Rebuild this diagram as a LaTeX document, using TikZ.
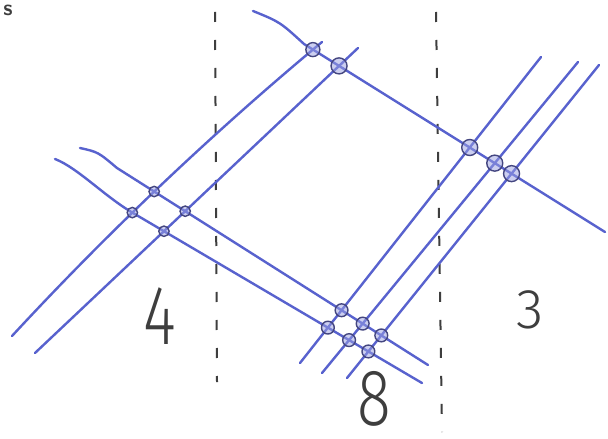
\documentclass[tikz,border=0pt]{standalone}
\usepackage{fontspec}
\newfontfamily\handfont{Fira Sans Light}
\usetikzlibrary{intersections}
\definecolor{pen}{RGB}{88,98,206}
\definecolor{ink}{RGB}{62,62,62}
\definecolor{ring}{RGB}{68,70,128}

\begin{document}
\begin{tikzpicture}[x=0.5pt, y=-0.5pt,
  wire/.style={pen, line width=1.2pt, line cap=round},
  cut/.style={ink, line width=1pt, dash pattern=on 5pt off 9pt},
  knot/.style={draw=ring, fill=pen!60, fill opacity=0.5, line width=0.7pt},
  digit/.style={ink, inner sep=0pt, font=\handfont\fontsize{42}{42}\selectfont}]
% canvas
\fill[white] (0,0) rectangle (608,438);
\useasboundingbox (0,0) rectangle (608,438);
% vertical cuts
\draw[cut] (215,12) -- (217,382);
\draw[cut] (436,12) -- (442,432);
% top strand
\draw[wire, name path=T] (253,11) .. controls (280,22) .. (304,44) -- (605,232);
% left pair
\draw[wire, name path=A1] (12,336) .. controls (111,229) and (215,131) .. (322,42);
\draw[wire, name path=A2] (35,353) -- (358,48);
% middle pair
\draw[wire, name path=B1] (80,148) .. controls (98,152) .. (117,168) -- (428,365);
\draw[wire, name path=B2] (55,159) .. controls (78,168) and (104,196) .. (133,213) -- (422,383);
% right triple
\draw[wire, name path=C1] (300,363) -- (541,57);
\draw[wire, name path=C2] (322,373) -- (578,62);
\draw[wire, name path=C3] (347,378) -- (599,65);
% crossings
\foreach \p/\q/\r in {A1/T/3.5pt, A2/T/4pt, C1/T/4pt, C2/T/4pt, C3/T/4pt,
    A1/B1/2.6pt, A1/B2/2.6pt, A2/B1/2.6pt, A2/B2/2.6pt,
    C1/B1/3.2pt, C1/B2/3.2pt, C2/B1/3.2pt, C2/B2/3.2pt, C3/B1/3.2pt, C3/B2/3.2pt}
  \draw[knot, name intersections/.expanded={of=\p\space and \q, by=\p\q}] (\p\q) circle (\r);
% region numbers
\node[digit, xscale=0.75] (four) at (160,316) {4};
\node[digit, xscale=0.78, font=\handfont\fontsize{40}{40}\selectfont] (eight) at (374,399) {8};
\node[digit, font=\handfont\fontsize{28}{28}\selectfont] (three) at (530,310) {3};
\node[ink, font=\sffamily\bfseries\fontsize{11}{11}\selectfont, inner sep=0pt] (frag) at (8,10) {s};
\end{tikzpicture}
\end{document}
